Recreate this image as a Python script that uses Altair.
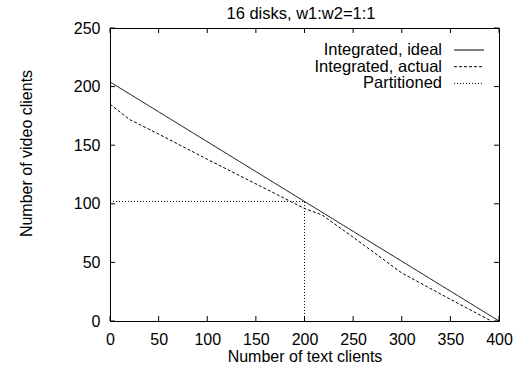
import altair as alt
import pandas as pd

# Series names (as shown in the key) and their points
series = ["Integrated, ideal", "Integrated, actual", "Partitioned"]

ideal_x = [0, 400]
ideal_y = [204, 0]

actual_x = [0, 20, 50, 100, 150, 200, 218, 250, 300, 350, 392]
actual_y = [185, 172, 159.5, 138, 117, 96, 90.5, 71.5, 41, 18.5, 0]

part_x = [0, 200, 200]
part_y = [102, 102, 0]

x_ticks = [0, 50, 100, 150, 200, 250, 300, 350, 400]
y_ticks = [0, 50, 100, 150, 200, 250]

chart_title = "16 disks, w1:w2=1:1"

rows = []
for name, xs, ys in zip(series, [ideal_x, actual_x, part_x], [ideal_y, actual_y, part_y]):
    for i, (xv, yv) in enumerate(zip(xs, ys)):
        rows.append({"series": name, "order": i, "x": xv, "y": yv})
df = pd.DataFrame(rows)

W, H = 389, 293
FONT = "Liberation Sans"
dashes = [[1, 0], [3, 2], [1, 2]]
TICK = 5

x_scale = alt.Scale(domain=[0, 400], nice=False, zero=False)
y_scale = alt.Scale(domain=[0, 250], nice=False, zero=False)

x_axis = alt.Axis(
    values=x_ticks, title="Number of text clients", grid=False, ticks=False,
    domain=False, labelFont=FONT, labelFontSize=16, labelColor="black",
    labelPadding=10, labelFlush=False, titleFont=FONT, titleFontSize=16,
    titleFontWeight="normal", titleColor="black", titleY=27,
    titleBaseline="top",
)
y_axis = alt.Axis(
    values=y_ticks, title="Number of video clients", grid=False, ticks=False,
    domain=False, labelFont=FONT, labelFontSize=16, labelColor="black",
    labelPadding=10, labelFlush=False, titleFont=FONT, titleFontSize=16,
    titleFontWeight="normal", titleColor="black", titleX=-84, titleY=125,
    titleAngle=270, titleAlign="center", titleBaseline="middle",
)

x_enc = alt.X("x:Q", scale=x_scale, axis=x_axis)
y_enc = alt.Y("y:Q", scale=y_scale, axis=y_axis)

lines = alt.Chart(df).mark_line(color="black", strokeWidth=1).encode(
    x=x_enc,
    y=y_enc,
    strokeDash=alt.StrokeDash(
        "series:N", scale=alt.Scale(domain=series, range=dashes), legend=None
    ),
    order="order:Q",
)

# Inward tick marks on all four sides
xt = pd.DataFrame({"x": x_ticks})
yt = pd.DataFrame({"y": y_ticks})
tick_style = dict(color="black", strokeWidth=1)
ticks_bottom = alt.Chart(xt).mark_rule(**tick_style).encode(
    x=x_enc, y=alt.value(H), y2=alt.value(H - TICK))
ticks_top = alt.Chart(xt).mark_rule(**tick_style).encode(
    x=x_enc, y=alt.value(0), y2=alt.value(TICK))
ticks_left = alt.Chart(yt).mark_rule(**tick_style).encode(
    y=y_enc, x=alt.value(0), x2=alt.value(TICK))
ticks_right = alt.Chart(yt).mark_rule(**tick_style).encode(
    y=y_enc, x=alt.value(W), x2=alt.value(W - TICK))

# Plot heading above the frame
heading = alt.Chart(pd.DataFrame({"t": [chart_title]})).mark_text(
    align="center", baseline="alphabetic", font=FONT, fontSize=16.5, color="black"
).encode(text="t:N", x=alt.value(191), y=alt.value(-9.5))

# Key in the upper right: right-aligned label followed by a line sample
key_layers = []
for i, name in enumerate(series):
    ky = 22 + i * 16.7
    kd = pd.DataFrame({"label": [name]})
    key_layers.append(
        alt.Chart(kd).mark_text(
            align="right", baseline="middle", font=FONT, fontSize=16.5, color="black"
        ).encode(text="label:N", x=alt.value(332), y=alt.value(ky))
    )
    key_layers.append(
        alt.Chart(kd).mark_rule(color="black", strokeWidth=1, strokeDash=dashes[i]).encode(
            x=alt.value(344), x2=alt.value(374), y=alt.value(ky)
        )
    )

chart = alt.layer(
    lines, ticks_bottom, ticks_top, ticks_left, ticks_right, heading, *key_layers
).properties(
    width=W,
    height=H,
    autosize=alt.AutoSizeParams(type="none"),
    padding={"left": 110, "top": 28, "right": 28, "bottom": 46},
    background="white",
).configure_view(stroke="black", strokeWidth=1)

chart.save("out.html", embed_options={"renderer": "svg", "actions": False})
